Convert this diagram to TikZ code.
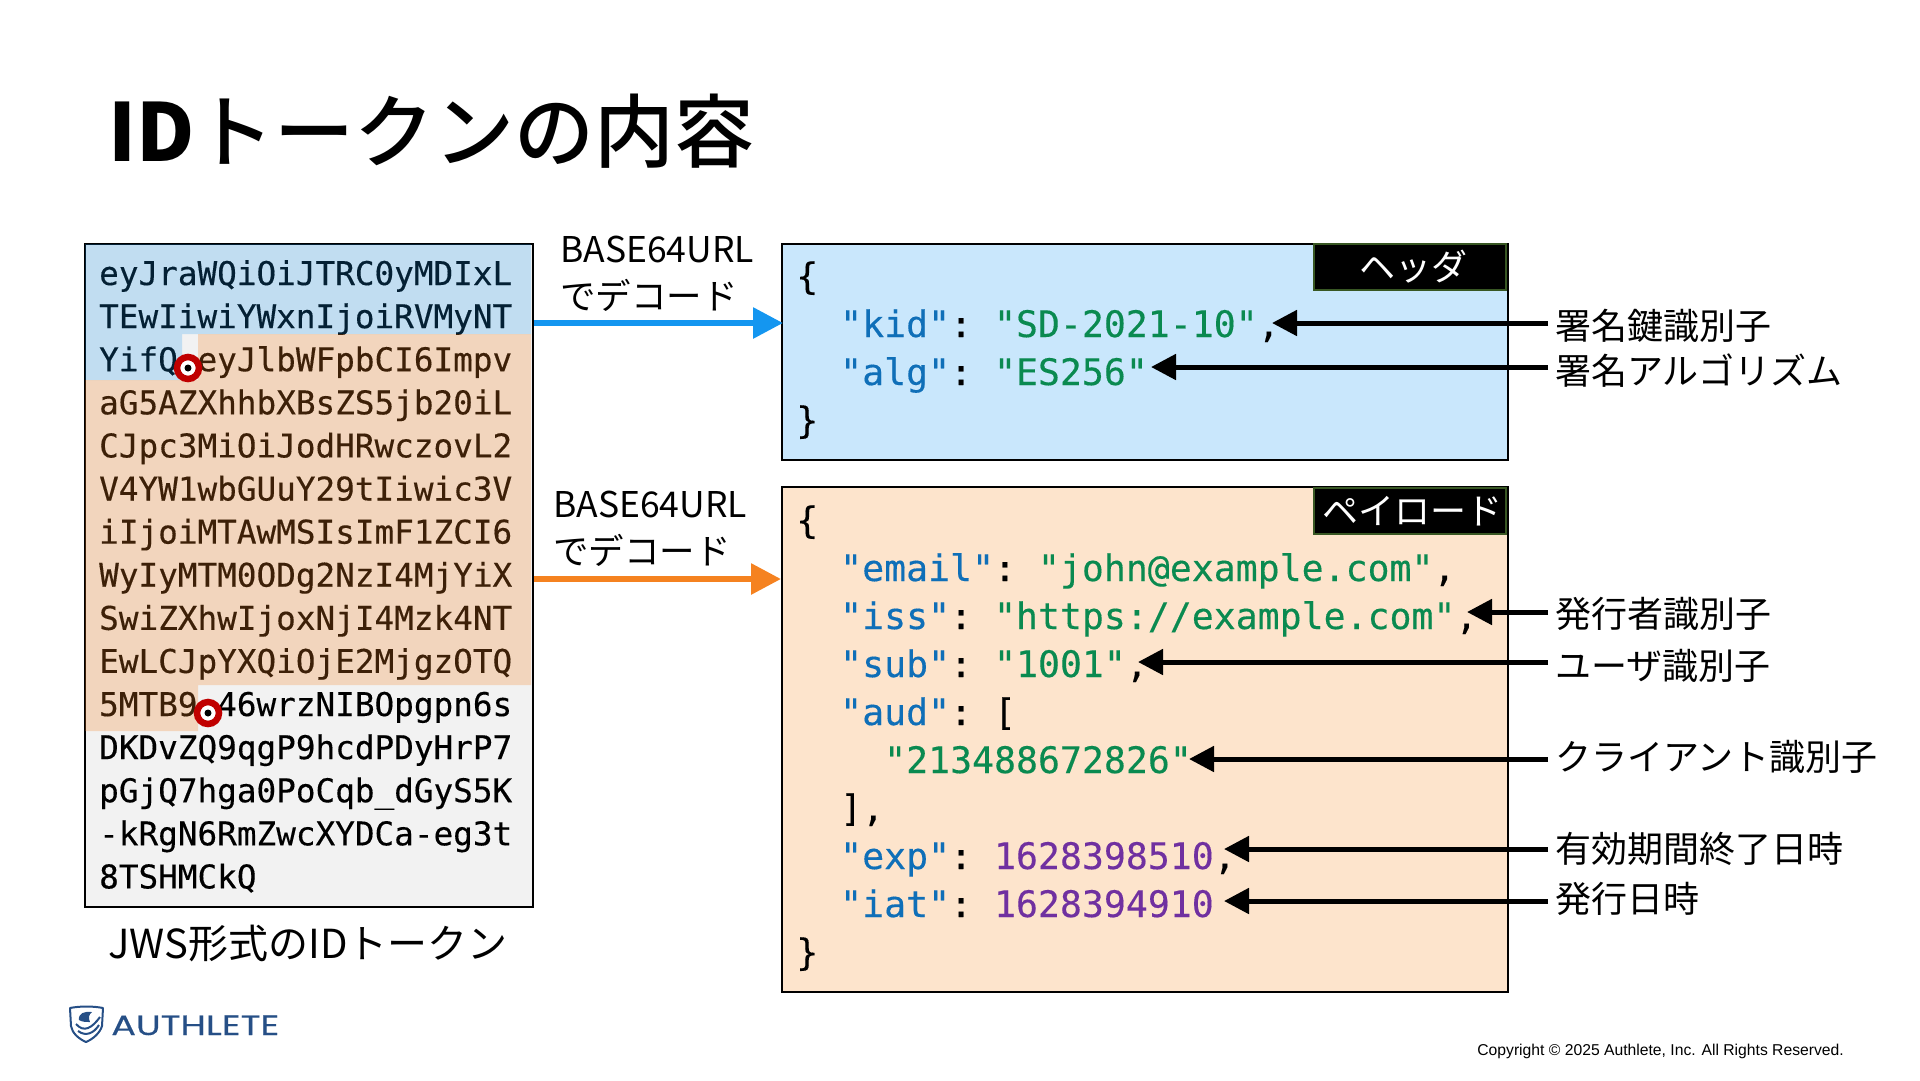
\documentclass[tikz,border=0pt]{standalone}
\usepackage{fontspec}
\usepackage{tikz}
\usetikzlibrary{arrows.meta,positioning}
\setmainfont{Noto Sans CJK JP}
\newfontfamily\titlefont[UprightFont=* Medium]{Noto Sans CJK JP}
\newfontfamily\codefont[FakeBold=0.3]{DejaVu Sans Mono}
\newfontfamily\logofont[FakeBold=0.3]{Poppins}
\newfontfamily\copyfont{Liberation Sans}
\definecolor{authblue}{HTML}{264F86}
\definecolor{headbg}{HTML}{C9E7FC}
\definecolor{paybg}{HTML}{FDE4CC}
\definecolor{tokenbg}{HTML}{F2F2F2}
\definecolor{headarrow}{HTML}{1496F0}
\definecolor{payarrow}{HTML}{F58220}
\definecolor{tagedge}{HTML}{385723}
\definecolor{markred}{HTML}{C00000}
\definecolor{jsonkey}{HTML}{0F6FB8}
\definecolor{jsonstr}{HTML}{0A8A50}
\definecolor{jsonnum}{HTML}{7030A0}
\newcommand{\jkey}[1]{\textcolor{jsonkey}{"#1"}}
\newcommand{\jstr}[1]{\textcolor{jsonstr}{"#1"}}
\newcommand{\jnum}[1]{\textcolor{jsonnum}{#1}}

\begin{document}
\begin{tikzpicture}[x=1pt, y=-1pt,
  tokenline/.style={anchor=base west, inner sep=0pt, font=\codefont\fontsize{32.67}{36}\selectfont},
  codeline/.style={anchor=base west, inner sep=0pt, font=\codefont\fontsize{36.5}{40}\selectfont\frenchspacing},
  jsonbox/.style={draw=black, line width=2pt, anchor=north west, inner sep=0pt},
  tagbox/.style={draw=tagedge, line width=2pt, fill=black, text=white, inner sep=0pt, font=\fontsize{36}{40}\selectfont},
  calllabel/.style={anchor=west, inner xsep=7pt, inner ysep=0pt, font=\fontsize{36}{40}\selectfont},
  callarr/.style={-{Triangle[length=25pt, width=25pt]}, line width=5pt, draw=black},
  decodearr/.style={-{Triangle[length=30pt, width=30pt]}, line width=6pt},
  decodelabel/.style={anchor=west, inner sep=0pt, font=\fontsize{35.5}{47}\selectfont},
  dotmark/.style={circle, draw=markred, fill=white, line width=6.5pt, minimum size=22pt, inner sep=0pt}
]
\useasboundingbox (0,0) rectangle (1920,1080);

% title
\node[anchor=west, inner sep=0pt, font=\titlefont\fontsize{80}{90}\selectfont] (title) at (108,131) {{\bfseries ID}トークンの内容};

% token
\node[jsonbox, fill=tokenbg, minimum width=448pt, minimum height=663pt] (tokenbox) at (84,243) {};
\foreach \txt [count=\i] in {eyJraWQiOiJTRC0yMDIxL, TEwIiwiYWxnIjoiRVMyNT, YifQ.eyJlbWFpbCI6Impv,
  aG5AZXhhbXBsZS5jb20iL, CJpc3MiOiJodHRwczovL2, V4YW1wbGUuY29tIiwic3V, iIjoiMTAwMSIsImF1ZCI6,
  WyIyMTM0ODg2NzI4MjYiX, SwiZXhwIjoxNjI4Mzk4NT, EwLCJpYXQiOjE2MjgzOTQ, 5MTB9.46wrzNIBOpgpn6s,
  DKDvZQ9qgP9hcdPDyHrP7, pGjQ7hga0PoCqb\_dGyS5K, -kRgN6RmZwcXYDCa-eg3t, 8TSHMCkQ}
  \node[tokenline] (tok\i) at (99,{285+43.1*(\i-1)}) {\txt};
\fill[headarrow, fill opacity=.22] (85,244) -- (531,244) -- (531,334) -- (182,334) -- (182,380) -- (85,380) -- cycle;
\fill[payarrow, fill opacity=.25] (198,334) -- (531,334) -- (531,685) -- (198,685) -- (198,731) -- (85,731) -- (85,380) -- (198,380) -- cycle;
\node[dotmark] (sepa) at (188,368) {};
\node[dotmark] (sepb) at (208,713) {};
\fill[black] (sepa) circle (3.5);
\fill[black] (sepb) circle (3.5);
\node[font=\fontsize{40}{44}\selectfont, inner sep=0pt] (tokencap) at (308,943) {JWS形式のIDトークン};

% json boxes
\node[jsonbox, fill=headbg, minimum width=726pt, minimum height=216pt] (headbox) at (781,243) {};
\node[jsonbox, fill=paybg, minimum width=726pt, minimum height=505pt] (paybox) at (781,486) {};
\node[tagbox, anchor=north east, minimum width=192pt, minimum height=46pt] (headtag) at (1507,243) {\hspace*{6pt}ヘッダ};
\node[tagbox, anchor=north east, minimum width=192pt, minimum height=46pt] (paytag) at (1507,487) {\hspace*{5pt}ペイロード};

\node[codeline] (h1) at (796,289) {\{};
\node[codeline] (h2) at (840,337) {\jkey{kid}: \jstr{SD-2021-10},};
\node[codeline] (h3) at (840,385) {\jkey{alg}: \jstr{ES256}};
\node[codeline] (h4) at (796,433) {\}};

\node[codeline] (p1) at (796,533) {\{};
\node[codeline] (p2) at (840,581) {\jkey{email}: \jstr{john@example.com},};
\node[codeline] (p3) at (840,629) {\jkey{iss}: \jstr{https://example.com},};
\node[codeline] (p4) at (840,677) {\jkey{sub}: \jstr{1001},};
\node[codeline] (p5) at (840,725) {\jkey{aud}: [};
\node[codeline] (p6) at (884,773) {\jstr{213488672826}};
\node[codeline] (p7) at (840,821) {],};
\node[codeline] (p8) at (840,869) {\jkey{exp}: \jnum{1628398510},};
\node[codeline] (p9) at (840,917) {\jkey{iat}: \jnum{1628394910}};
\node[codeline] (p10) at (796,965) {\}};

% decode arrows
\node[decodelabel, align=left] (declaba) at (560,274) {BASE64URL\\でデコード};
\node[decodelabel, align=left] (declabb) at (553,529) {BASE64URL\\でデコード};
\coordinate (heady) at (0,323);
\coordinate (payy) at (0,579);
\draw[decodearr, draw=headarrow, -{Triangle[length=30pt, width=30pt, fill=headarrow]}, shorten >=-2pt] (tokenbox.east |- heady) -- (headbox.west |- heady);
\draw[decodearr, draw=payarrow] (tokenbox.east |- payy) -- (paybox.west |- payy);

% callouts
\foreach \name/\tipx/\tipy/\laby/\txt in {
  kid/1272/323/326/署名鍵識別子, alg/1151/367/371/署名アルゴリズム,
  iss/1467/612/614/発行者識別子, sub/1138/662/666/ユーザ識別子,
  aud/1189/759/757/クライアント識別子, exp/1224/849/849/有効期間終了日時, iat/1224/901/899/発行日時}{
  \coordinate (tip\name) at (\tipx,\tipy);
  \node[calllabel] (lab\name) at (1548,\laby) {\txt};
  \draw[callarr] (lab\name.west |- tip\name) -- (tip\name);
}

% logo
\draw[authblue, line width=2pt, line join=round] (70,1008) .. controls (80,1006) and (93,1006) .. (103,1008) -- (102,1026) .. controls (100,1033) and (93,1039) .. (86,1042) .. controls (79,1039) and (72,1033) .. (71,1026) -- cycle;
\fill[authblue] (79,1020) .. controls (78,1013) and (85,1011) .. (92,1012) .. controls (89,1014) and (88,1018) .. (90,1022) .. controls (86,1022) and (82,1022) .. (79,1020) -- cycle;
\draw[authblue, line width=2pt] (76,1024) .. controls (84,1033) and (92,1028) .. (100,1017);
\draw[authblue, line width=2pt] (78,1031) .. controls (86,1037) and (94,1033) .. (99,1025);
\node[anchor=base west, inner sep=0pt, text=authblue, xscale=1.31, transform shape, font=\logofont\fontsize{28}{30}\selectfont] (logo) at (111,1035) {AUTHLETE};
\node[anchor=east, inner sep=0pt, font=\copyfont\fontsize{15.7}{18}\selectfont] (copy) at (1844,1051) {Copyright © 2025 Authlete, Inc. All Rights Reserved.};
\end{tikzpicture}
\end{document}
